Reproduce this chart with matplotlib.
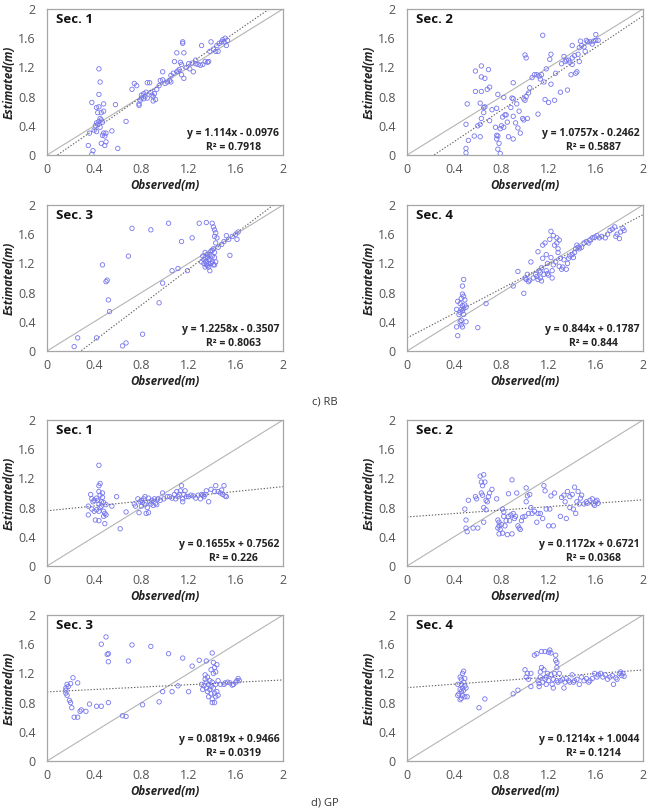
import matplotlib
matplotlib.use("Agg")
import matplotlib.pyplot as plt
import numpy as np

plt.rcParams['font.family'] = ['Open Sans', 'DejaVu Sans']

# ---------------- DATA ----------------
rb1_x = [0.44,0.45,0.44,0.38,0.48,0.42,0.44,0.43,0.46,0.48,0.45,0.46,0.44,0.47,0.42,0.41,0.43,0.45,0.40,0.42,0.36,0.48,0.50,0.47,0.49,0.46,0.50,0.49,0.35,0.39,0.38,0.55,0.60,0.58,0.67,
         0.72,0.74,0.76,0.78,0.78,0.79,0.80,0.80,0.82,0.82,0.83,0.84,0.85,0.85,0.87,0.88,0.89,0.90,0.90,0.92,0.91,0.93,0.95,0.96,0.98,0.98,1.00,1.02,1.04,1.05,1.07,1.08,1.10,1.10,1.12,1.13,1.14,1.14,1.15,1.15,1.16,1.16,1.18,1.20,1.21,1.23,1.24,1.26,1.28,1.30,1.31,1.32,1.34,1.36,1.37,1.38,1.39,1.41,1.43,1.44,1.45,1.46,1.48,1.49,1.50,1.51,1.52,1.53,1.05,1.11,1.26]
rb1_y = [1.18,1.00,0.83,0.72,0.70,0.65,0.66,0.58,0.58,0.60,0.50,0.48,0.46,0.45,0.44,0.40,0.42,0.38,0.34,0.32,0.30,0.30,0.30,0.27,0.26,0.16,0.18,0.13,0.13,0.06,0.01,0.33,0.09,0.69,0.46,
         0.90,0.98,0.95,0.70,0.68,0.75,0.82,0.78,0.84,0.77,0.80,0.86,0.78,0.99,0.99,0.86,0.82,0.80,0.74,0.76,0.84,0.90,0.95,1.02,1.03,1.14,0.98,1.00,1.02,1.09,1.12,1.28,1.14,1.40,1.17,1.27,1.24,1.10,1.55,1.53,1.40,1.05,1.20,1.25,1.18,1.26,1.14,1.25,1.24,1.23,1.50,1.24,1.28,1.27,1.28,1.42,1.55,1.45,1.42,1.50,1.42,1.53,1.55,1.58,1.55,1.60,1.50,1.57,1.00,1.15,1.30]

rb2_x = [1.15,0.63,0.58,0.69,0.63,0.66,0.58,0.63,0.70,0.68,0.51,0.62,0.66,0.65,0.65,0.63,0.62,0.60,0.50,0.57,0.62,0.52,0.50,0.50,0.72,0.70,0.76,0.77,0.75,0.76,0.77,0.76,0.78,0.77,0.79,0.79,0.80,0.82,0.81,0.83,0.82,0.84,0.85,0.86,0.88,0.89,0.90,0.90,0.90,0.90,0.92,0.93,0.94,0.95,0.96,0.98,0.99,0.99,1.00,1.01,1.02,1.00,1.01,1.03,1.04,1.06,1.08,1.10,1.11,1.12,1.13,1.14,1.16,1.17,1.18,1.20,1.21,1.22,1.22,1.25,1.26,1.30,1.31,1.33,1.34,1.35,1.36,1.37,1.38,1.39,1.40,1.42,1.43,1.44,1.45,1.46,1.46,1.47,1.48,1.50,1.51,1.52,1.53,1.55,1.57,1.58,1.60,1.60,1.62,1.40,1.40]
rb2_y = [1.64,1.22,1.15,1.17,1.07,1.05,0.87,0.87,0.93,0.90,0.70,0.71,0.66,0.65,0.58,0.50,0.42,0.40,0.42,0.26,0.25,0.20,0.09,0.03,0.62,0.47,0.64,0.83,0.38,0.27,0.26,0.22,0.16,0.08,0.02,0.36,0.40,0.38,0.52,0.55,0.79,0.55,0.45,0.25,0.65,0.78,0.77,0.99,0.53,0.22,0.44,0.70,0.37,0.60,0.30,0.50,0.48,0.77,0.75,0.80,0.50,1.37,1.33,0.85,0.92,1.06,1.10,1.10,0.56,1.08,1.04,1.10,1.00,0.76,1.18,0.72,1.31,1.38,0.97,0.75,1.12,0.86,1.25,1.35,1.28,1.30,0.89,1.30,1.27,1.10,1.24,1.36,1.12,1.14,1.38,1.47,1.28,1.56,1.50,1.48,1.42,1.57,1.55,1.55,1.52,1.56,1.57,1.65,1.57,1.50,1.33]

rb3_x = [0.23,0.26,0.42,0.47,0.50,0.51,0.52,0.53,0.64,0.67,0.69,0.72,0.81,0.88,0.95,0.98,1.03,1.06,1.11,1.14,1.19,1.23,1.29,1.35,1.40,1.41,1.42,1.43,1.42,1.44,1.43,1.45,1.48,1.50,1.52,1.54,1.57,1.60,1.61,1.62,1.55,
         1.32,1.33,1.34,1.35,1.35,1.36,1.37,1.37,1.38,1.38,1.39,1.40,1.40,1.40,1.41,1.42,1.42,1.43,1.41,1.33,1.34,1.36,1.38,1.31,1.36,1.39,1.42,1.34,1.37]
rb3_y = [0.06,0.18,0.18,1.18,0.95,0.97,0.70,0.54,0.07,0.11,1.30,1.68,0.23,1.66,0.66,0.93,1.75,1.10,1.13,1.50,1.10,1.55,1.75,1.76,1.75,1.70,1.66,1.62,1.57,1.55,1.48,1.42,1.46,1.50,1.58,1.53,1.57,1.60,1.53,1.63,1.31,
         1.30,1.25,1.35,1.22,1.18,1.28,1.20,1.15,1.32,1.25,1.20,1.38,1.30,1.22,1.18,1.28,1.35,1.22,1.40,1.20,1.15,1.17,1.10,1.22,1.32,1.37,1.18,1.28,1.25]

rb4_x = [0.48,0.47,0.47,0.48,0.46,0.49,0.43,0.45,0.49,0.47,0.50,0.48,0.46,0.42,0.47,0.45,0.44,0.48,0.46,0.45,0.50,0.46,0.42,0.47,0.43,0.60,0.67,
         0.90,0.94,0.99,1.00,1.01,1.02,1.03,1.04,1.05,1.07,1.09,1.10,1.11,1.11,1.12,1.13,1.14,1.14,1.15,1.15,1.16,1.17,1.18,1.19,1.19,1.20,1.21,1.22,1.22,1.23,1.24,1.24,1.25,1.26,1.27,1.27,1.28,1.28,1.29,1.29,1.30,1.31,1.32,1.33,1.35,1.36,1.37,1.38,1.40,1.41,1.42,1.43,1.44,1.45,1.46,1.48,1.50,1.52,1.54,1.55,1.57,1.59,1.61,1.63,1.65,1.68,1.70,1.72,1.74,1.76,1.78,1.80,1.81,1.83,1.84,1.77,1.23,1.18,1.13]
rb4_y = [0.98,0.89,0.78,0.75,0.72,0.70,0.68,0.65,0.63,0.62,0.60,0.58,0.57,0.57,0.55,0.53,0.50,0.50,0.42,0.40,0.40,0.36,0.33,0.33,0.21,0.32,0.65,
         0.89,1.09,0.79,1.00,0.98,1.05,0.95,0.97,1.22,1.00,1.05,1.02,0.98,1.36,1.10,1.00,0.96,1.14,1.45,1.27,1.05,1.48,1.32,1.20,1.06,1.04,1.53,1.64,1.28,1.10,1.58,1.18,1.45,1.22,1.55,1.48,1.40,1.35,1.52,1.16,1.27,1.12,1.15,1.25,1.12,1.20,1.27,1.30,1.32,1.28,1.35,1.40,1.45,1.42,1.40,1.42,1.48,1.50,1.48,1.52,1.55,1.56,1.58,1.55,1.57,1.55,1.60,1.65,1.67,1.70,1.60,1.54,1.63,1.68,1.65,1.57,1.00,1.10,1.08]

gp1_x = [0.44,0.45,0.44,0.44,0.47,0.37,0.45,0.42,0.38,0.40,0.43,0.46,0.39,0.48,0.47,0.44,0.46,0.35,0.45,0.50,0.42,0.44,0.40,0.48,0.38,0.49,0.35,0.48,0.50,0.41,0.44,0.49,0.55,0.59,0.62,0.67,
         0.74,0.75,0.77,0.78,0.79,0.80,0.80,0.81,0.82,0.83,0.83,0.84,0.85,0.86,0.86,0.87,0.88,0.89,0.90,0.91,0.92,0.93,0.94,0.96,0.98,0.99,1.02,1.04,1.06,1.08,1.09,1.10,1.11,1.12,1.13,1.14,1.15,1.15,1.16,1.17,1.18,1.20,1.22,1.24,1.26,1.28,1.30,1.31,1.32,1.33,1.34,1.35,1.37,1.39,1.42,1.43,1.45,1.47,1.48,1.49,1.50,1.51,1.52]
gp1_y = [1.38,1.13,1.10,1.02,1.00,0.98,0.97,0.93,0.92,0.90,0.90,0.88,0.88,0.87,0.94,0.85,0.82,0.82,0.80,0.84,0.77,0.75,0.75,0.75,0.78,0.72,0.70,0.68,0.70,0.63,0.62,0.58,0.82,0.95,0.51,0.74,
         0.85,0.82,0.92,0.73,0.88,0.90,0.82,0.87,0.92,0.84,0.95,0.72,0.80,0.73,0.93,0.88,0.85,0.90,0.83,0.92,0.86,0.84,0.92,0.90,1.00,0.92,0.95,0.95,0.93,0.98,0.92,1.02,0.95,0.98,1.03,1.10,0.92,0.88,0.98,1.03,0.95,0.95,0.97,0.96,0.93,0.97,0.92,0.98,0.97,0.95,0.98,1.03,0.88,1.05,1.02,1.10,1.02,1.00,1.04,0.98,1.10,0.96,0.95]

gp2_x = [0.49,0.50,0.50,0.52,0.51,0.56,0.58,0.59,0.60,0.62,0.63,0.64,0.65,0.66,0.63,0.64,0.65,0.67,0.67,0.68,0.69,0.70,0.72,0.65,0.76,0.77,0.78,0.78,0.77,0.79,0.78,0.80,0.81,0.82,0.82,0.81,0.83,0.84,0.85,0.86,0.86,0.87,0.88,0.89,0.89,0.90,0.91,0.92,0.93,0.94,0.95,0.96,0.97,0.98,1.00,1.01,1.01,1.02,1.03,1.04,1.05,1.06,1.08,1.10,1.11,1.13,1.15,1.16,1.17,1.18,1.20,1.21,1.22,1.24,1.25,1.30,1.31,1.33,1.34,1.35,1.36,1.38,1.38,1.40,1.41,1.42,1.43,1.44,1.45,1.46,1.47,1.48,1.50,1.52,1.53,1.55,1.57,1.58,1.59,1.60,1.61,1.62]
gp2_y = [0.78,0.63,0.52,0.90,0.47,0.52,0.95,0.92,0.52,1.23,1.15,1.10,1.25,1.15,1.00,0.97,0.80,0.77,0.90,0.88,0.95,1.00,1.05,0.60,0.92,0.63,0.60,0.55,0.52,0.50,0.44,0.57,0.78,0.74,0.68,0.45,0.55,0.62,0.43,0.99,0.68,0.62,0.70,1.18,0.44,0.72,0.65,0.68,1.00,0.55,0.52,0.50,0.62,0.67,0.68,0.88,1.07,0.96,0.72,0.98,0.80,0.72,0.75,0.60,0.72,0.72,0.65,1.10,1.03,0.78,0.55,0.78,0.96,0.55,1.00,0.68,0.94,0.97,0.88,0.65,1.02,0.80,0.95,0.98,0.78,1.08,0.72,0.88,1.02,0.85,0.93,0.97,0.85,0.88,0.86,0.90,0.92,0.85,0.83,0.88,0.90,0.86]

gp3_x = [0.16,0.16,0.17,0.18,0.16,0.17,0.19,0.20,0.20,0.22,0.21,0.23,0.26,0.26,0.28,0.29,0.33,0.36,0.42,0.46,0.46,0.50,0.51,0.52,0.52,0.52,0.64,0.67,0.69,0.72,0.81,0.88,0.95,0.98,1.03,1.06,1.11,1.15,1.20,1.23,1.29,1.35,1.40,
         1.31,1.33,1.34,1.34,1.35,1.35,1.36,1.36,1.37,1.37,1.38,1.38,1.39,1.39,1.40,1.40,1.40,1.41,1.41,1.41,1.42,1.42,1.42,1.43,1.43,1.43,1.44,1.44,1.45,1.45,1.32,1.39,
         1.50,1.51,1.53,1.55,1.57,1.58,1.61,1.62,1.63,1.60,1.47]
gp3_y = [1.00,0.97,1.05,1.02,0.93,0.90,0.83,0.80,1.06,1.14,0.73,0.60,0.60,1.07,0.68,0.70,0.68,0.78,0.75,0.75,1.60,1.70,1.46,1.47,1.36,0.80,0.62,0.61,1.37,1.59,0.77,1.57,0.81,0.95,1.47,0.95,1.03,1.41,0.95,1.30,1.38,1.37,1.48,
         1.05,1.03,1.12,1.18,1.08,1.00,1.15,0.95,1.05,0.88,1.10,0.98,0.92,1.25,1.08,0.85,0.80,1.20,1.00,1.35,0.93,1.28,0.80,1.22,1.05,0.88,1.32,0.95,1.10,0.90,0.98,1.02,
         1.05,1.07,1.08,1.07,1.04,1.05,1.10,1.13,1.10,1.08,1.05]

gp4_x = [0.48,0.47,0.45,0.46,0.49,0.48,0.43,0.46,0.49,0.47,0.45,0.48,0.46,0.50,0.44,0.47,0.43,0.49,0.46,0.45,0.51,0.61,0.66,0.90,0.94,
         1.00,1.01,1.02,1.03,1.05,1.05,1.08,1.10,1.11,1.12,1.13,1.13,1.14,1.14,1.15,1.16,1.17,1.17,1.18,1.19,1.20,1.20,1.21,1.22,1.22,1.23,1.24,1.24,1.25,1.26,1.26,1.27,1.27,1.27,1.28,1.29,1.30,1.32,1.33,1.35,1.37,1.38,1.40,1.41,1.42,1.44,1.46,1.48,1.50,1.52,1.54,1.55,1.57,1.59,1.61,1.62,1.64,1.66,1.68,1.70,1.72,1.74,1.75,1.77,1.78,1.80,1.81,1.82,1.83,1.84,1.12,1.18,1.34]
gp4_y = [1.23,1.20,1.15,1.12,1.13,1.08,1.05,1.05,1.03,1.00,0.98,0.97,0.95,1.00,0.92,0.90,0.90,0.88,0.86,0.84,0.88,0.73,0.85,0.92,0.97,
         1.25,1.15,1.20,1.12,1.20,1.02,1.45,1.47,1.10,1.02,1.15,1.22,1.50,1.28,1.08,1.25,1.50,1.12,1.05,1.20,1.49,1.10,1.52,1.48,1.18,1.05,1.12,1.00,1.20,1.45,1.38,1.35,1.28,1.10,1.08,1.20,1.10,1.12,1.00,1.13,1.10,1.08,1.18,1.08,1.10,1.12,1.05,1.15,1.10,1.13,1.08,1.10,1.13,1.20,1.15,1.18,1.20,1.15,1.18,1.12,1.15,1.17,1.05,1.14,1.12,1.20,1.22,1.17,1.20,1.16,1.06,1.15,1.08]

slopes = [1.114, 1.0757, 1.2258, 0.844, 0.1655, 0.1172, 0.0819, 0.1214]
intercepts = [-0.0976, -0.2462, -0.3507, 0.1787, 0.7562, 0.6721, 0.9466, 1.0044]
eq_texts = ["y = 1.114x - 0.0976", "y = 1.0757x - 0.2462", "y = 1.2258x - 0.3507", "y = 0.844x + 0.1787",
            "y = 0.1655x + 0.7562", "y = 0.1172x + 0.6721", "y = 0.0819x + 0.9466", "y = 0.1214x + 1.0044"]
r2_texts = ["R² = 0.7918", "R² = 0.5887", "R² = 0.8063", "R² = 0.844",
            "R² = 0.226", "R² = 0.0368", "R² = 0.0319", "R² = 0.1214"]
sec_labels = ["Sec. 1", "Sec. 2", "Sec. 3", "Sec. 4", "Sec. 1", "Sec. 2", "Sec. 3", "Sec. 4"]
ticks = [0, 0.4, 0.8, 1.2, 1.6, 2]
tick_labels = ["0", "0.4", "0.8", "1.2", "1.6", "2"]
xs = [rb1_x, rb2_x, rb3_x, rb4_x, gp1_x, gp2_x, gp3_x, gp4_x]
ys = [rb1_y, rb2_y, rb3_y, rb4_y, gp1_y, gp2_y, gp3_y, gp4_y]

# ---------------- FIGURE ----------------
W, H = 658, 811
fig = plt.figure(figsize=(W/100, H/100), dpi=100)

lefts = [47, 407]
tops = [9, 205, 420, 615]
aw, ah = 236, 146

for i in range(8):
    r, c = i // 2, i % 2
    l = lefts[c]; t = tops[r]
    ax = fig.add_axes([l/W, 1 - (t+ah)/H, aw/W, ah/H])
    ax.set_xlim(0, 2); ax.set_ylim(0, 2)
    # 1:1 line
    ax.plot([0, 2], [0, 2], color='#b4b4b4', lw=0.8, zorder=1)
    # trend line
    xl = np.linspace(0, 2, 400)
    yl = slopes[i]*xl + intercepts[i]
    m = (yl >= 0) & (yl <= 2)
    ax.plot(xl[m], yl[m], color='#606060', lw=0.8, ls=(0, (1.2, 1.6)), zorder=2)
    ax.scatter(xs[i], ys[i], s=10, facecolors='none', edgecolors='#7676ee', linewidths=0.6, zorder=3)
    ax.set_xticks(ticks); ax.set_xticklabels(tick_labels)
    ax.set_yticks(ticks); ax.set_yticklabels(tick_labels)
    ax.tick_params(length=0, labelsize=9, colors='#555555')
    ax.tick_params(axis='x', pad=6)
    ax.tick_params(axis='y', pad=8)
    for s in ax.spines.values():
        s.set_color('#a6a6a6'); s.set_linewidth(0.9)
    ax.set_xlabel("Observed(m)", fontsize=8.3, fontweight='bold', fontstyle='italic', color='#222222', labelpad=2)
    ax.set_ylabel("Estimated(m)", fontsize=8.3, fontweight='bold', fontstyle='italic', color='#222222', labelpad=2)
    ax.text(0.04, 0.93, sec_labels[i], transform=ax.transAxes, fontsize=9.5, fontweight='bold',
            color='#111111', ha='left', va='center')
    ax.text(0.985, 0.15, eq_texts[i], transform=ax.transAxes, fontsize=7.5, fontweight='bold',
            color='#222222', ha='right', va='center')
    ax.text(0.79, 0.05, r2_texts[i], transform=ax.transAxes, fontsize=7.5, fontweight='bold',
            color='#222222', ha='center', va='center')

fig.text(325/W, 1 - 402/H, "c) RB", fontsize=8, color='#333333', ha='center', va='center')
fig.text(325/W, 1 - 803/H, "d) GP", fontsize=8, color='#333333', ha='center', va='center')

fig.savefig("out.png", dpi=100)
